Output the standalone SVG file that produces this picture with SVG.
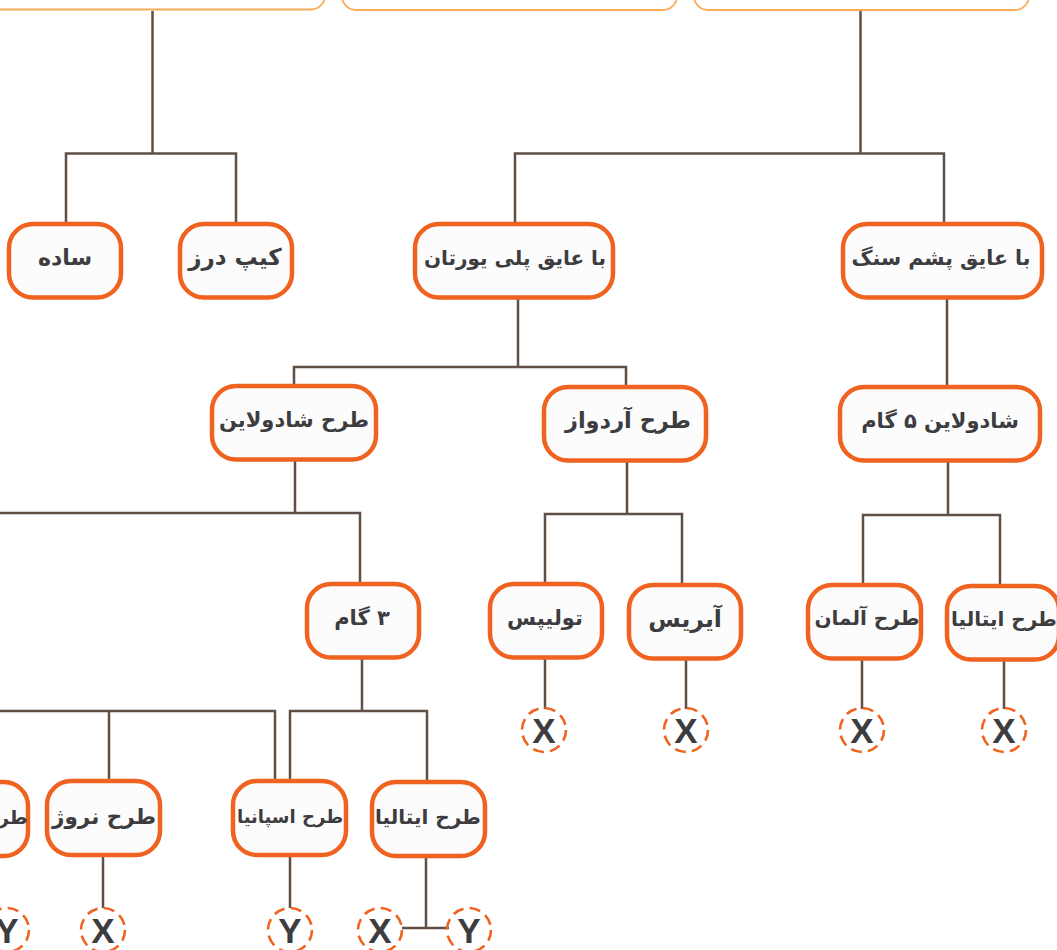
<svg xmlns="http://www.w3.org/2000/svg" width="1057" height="950" viewBox="0 0 1057 950">
<style>
.n{fill:#fcfcfc;stroke:#f0621f;stroke-width:4.500}
.t{fill:none;stroke:#fbaa55;stroke-width:1.800}
.c{fill:none;stroke:#f0621f;stroke-width:2.600;stroke-dasharray:11 6.280}
.l{fill:none;stroke:#5f4f45;stroke-width:2.500}
text{font-family:"DejaVu Sans","Noto Sans",sans-serif;font-weight:700;fill:#3d3d3f;font-size:21px;text-anchor:middle;direction:rtl}
.m{font-family:"Liberation Sans",Arial,sans-serif;font-size:35px;direction:ltr}
</style>
<rect width="1057" height="950" fill="#fff"/>
<g id="top-boxes">
<rect id="top1" class="t" x="-40" y="-40" width="365" height="49.500" rx="14"/>
<rect id="top2" class="t" x="342" y="-40" width="335" height="50" rx="14"/>
<rect id="top3" class="t" x="694" y="-40" width="335" height="50" rx="14"/>
</g>
<g id="connectors" class="l">
<path d="M152.500 11V153.500M66 222V153.500H236V222"/>
<path d="M860.500 11V153.500M515 222V153.500H944V222"/>
<path d="M518 298V367M294 385V367H626V385"/>
<path d="M947 298V386"/>
<path d="M295 460V513M0 513H360V583"/>
<path d="M627 461V514M545 583V514H682V584"/>
<path d="M948 461V515M863 584V515H1000V585"/>
<path d="M362 658V711M290 780V711H427V781"/>
<path d="M0 711H275V780M109 711V780"/>
<path d="M545 658V709M686 659V709M862 659V709M1004 660V709"/>
<path d="M103 856V908M290 856V908M426 857V928M402 928H449"/>
</g>
<g id="n-sadeh"><rect class="n" x="9" y="224" width="112" height="73.500" rx="24"/><text x="65" y="265" font-size="22" style="font-size:22px">ساده</text></g>
<g id="n-cap"><rect class="n" x="180" y="224" width="112" height="73.500" rx="24"/><text x="235" y="265" style="font-size:23px">کیپ درز</text></g>
<g id="n-pu"><rect class="n" x="415" y="224" width="198" height="73.500" rx="24"/><text x="515" y="265" style="font-size:20px">با عایق پلی یورتان</text></g>
<g id="n-wool"><rect class="n" x="843" y="224" width="199" height="73.500" rx="24"/><text x="941" y="265" style="font-size:20.500px">با عایق پشم سنگ</text></g>
<g id="n-shad"><rect class="n" x="212" y="386" width="164" height="73.500" rx="24"/><text x="294" y="427">طرح شادولاین</text></g>
<g id="n-ard"><rect class="n" x="544" y="387" width="162" height="73.500" rx="24"/><text x="628" y="428" style="font-size:22.500px">طرح آردواز</text></g>
<g id="n-shad5"><rect class="n" x="840" y="387" width="200" height="73.500" rx="24"/><text x="940" y="428">شادولاین ۵ گام</text></g>
<g id="n-3g"><rect class="n" x="307" y="584" width="112" height="73.500" rx="24"/><text x="362" y="625">۳ گام</text></g>
<g id="n-tulip"><rect class="n" x="490" y="584" width="112" height="73.500" rx="24"/><text x="545" y="625">تولیپس</text></g>
<g id="n-iris"><rect class="n" x="629" y="585" width="112" height="73.500" rx="24"/><text x="685" y="627" style="font-size:23.500px">آیریس</text></g>
<g id="n-ger"><rect class="n" x="808" y="585" width="113" height="73.500" rx="24"/><text x="867" y="625" style="font-size:20px">طرح آلمان</text></g>
<g id="n-ita1"><rect class="n" x="947" y="586" width="112" height="73.500" rx="24"/><text x="1004" y="626" style="font-size:20px">طرح ایتالیا</text></g>
<g id="n-cut"><rect class="n" x="-86" y="782" width="114" height="74" rx="24"/><text x="6" y="824" style="font-size:19px">طرح</text></g>
<g id="n-nor"><rect class="n" x="47" y="781" width="113" height="74" rx="24"/><text x="104" y="824" style="font-size:21.500px">طرح نروژ</text></g>
<g id="n-spa"><rect class="n" x="233" y="781" width="113" height="74" rx="24"/><text x="290" y="823" style="font-size:18px">طرح اسپانیا</text></g>
<g id="n-ita2"><rect class="n" x="372" y="782" width="113" height="74" rx="24"/><text x="428" y="824" style="font-size:20px">طرح ایتالیا</text></g>
<g id="x1"><circle class="c" cx="544" cy="730" r="22"/><text class="m" x="544" y="743">X</text></g>
<g id="x2"><circle class="c" cx="686" cy="730" r="22"/><text class="m" x="686" y="743">X</text></g>
<g id="x3"><circle class="c" cx="862" cy="730" r="22"/><text class="m" x="862" y="743">X</text></g>
<g id="x4"><circle class="c" cx="1004" cy="730" r="22"/><text class="m" x="1004" y="743">X</text></g>
<g id="y0"><circle class="c" cx="7" cy="930" r="22"/><text class="m" x="7" y="943">Y</text></g>
<g id="x5"><circle class="c" cx="103" cy="930" r="22"/><text class="m" x="103" y="943">X</text></g>
<g id="y1"><circle class="c" cx="290" cy="930" r="22"/><text class="m" x="290" y="943">Y</text></g>
<g id="x6"><circle class="c" cx="380" cy="930" r="22"/><text class="m" x="380" y="943">X</text></g>
<g id="y2"><circle class="c" cx="469" cy="930" r="22"/><text class="m" x="469" y="943">Y</text></g>
</svg>
